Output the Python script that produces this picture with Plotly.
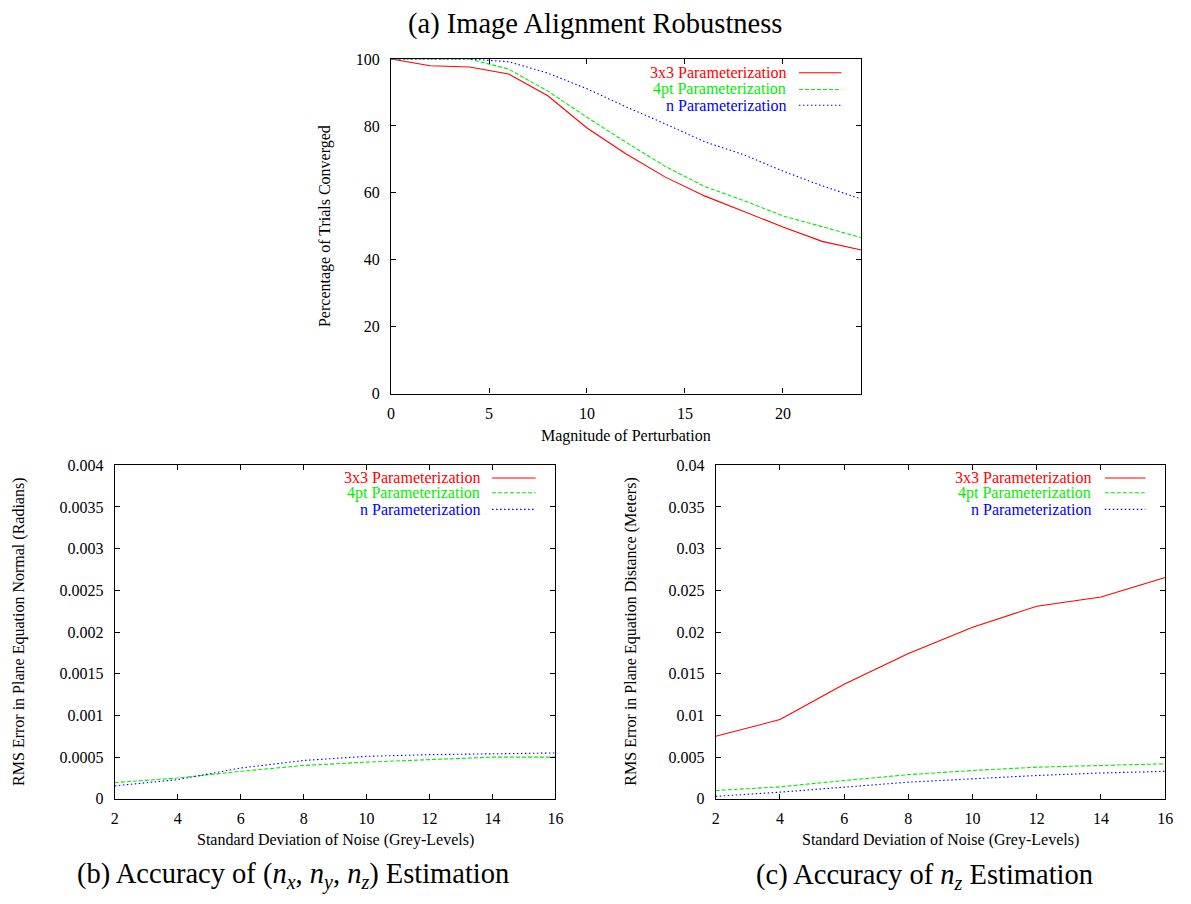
import plotly.graph_objects as go

# ---- data -------------------------------------------------------------
series_names = ["3x3 Parameterization", "4pt Parameterization", "n Parameterization"]
series_colors = ["#ff0000", "#00ee00", "#0000ff"]
series_dash = ["solid", "4px,2px", "1.5px,2.5px"]

# (a) robustness vs. perturbation magnitude
perturbation = [0, 2, 4, 6, 8, 10, 12, 14, 16, 18, 20, 22, 24]
conv_3x3 = [100, 98.0, 97.6, 95.5, 89.0, 79.4, 71.6, 64.7, 59.1, 54.4, 49.8, 45.5, 42.9]
conv_4pt = [100, 100, 100, 97.0, 90.4, 82.6, 75.1, 67.9, 61.9, 57.7, 53.1, 49.9, 46.6]
conv_n = [100, 100, 100, 99.2, 95.8, 91.1, 85.7, 80.6, 75.3, 71.4, 66.5, 62.1, 58.2]

# (b), (c) accuracy vs. noise level
# (the 3x3 normal error lies above the plotted range of panel (b))
noise = [2, 4, 6, 8, 10, 12, 14, 16]
normal_4pt = [0.000195, 0.00025, 0.00033, 0.00040, 0.00044, 0.00047, 0.00050, 0.00050]
normal_n = [0.000156, 0.00023, 0.00037, 0.00046, 0.00051, 0.00053, 0.00054, 0.00055]

dist_3x3 = [0.0075, 0.0095, 0.01374, 0.01744, 0.02057, 0.0231, 0.0242, 0.02654]
dist_4pt = [0.0010, 0.00144, 0.0022, 0.0029, 0.0034, 0.0038, 0.0040, 0.0042]
dist_n = [0.0003, 0.0008, 0.0014, 0.0020, 0.0024, 0.0028, 0.0031, 0.0033]

# tick labels
ticks_a_x = [0, 5, 10, 15, 20]
ticks_a_y = [0, 20, 40, 60, 80, 100]
ticks_noise = [2, 4, 6, 8, 10, 12, 14, 16]
ticks_b_y = [0, 0.0005, 0.001, 0.0015, 0.002, 0.0025, 0.003, 0.0035, 0.004]
ticktext_b_y = ["0", "0.0005", "0.001", "0.0015", "0.002", "0.0025", "0.003", "0.0035", "0.004"]
ticks_c_y = [0, 0.005, 0.01, 0.015, 0.02, 0.025, 0.03, 0.035, 0.04]
ticktext_c_y = ["0", "0.005", "0.01", "0.015", "0.02", "0.025", "0.03", "0.035", "0.04"]

# ---- figure -----------------------------------------------------------
W, H = 1191, 904
SERIF = "Liberation Serif, Times New Roman, serif"

fig = go.Figure()

panels = [
    ("x", "y", perturbation, [conv_3x3, conv_4pt, conv_n]),
    ("x2", "y2", noise, [None, normal_4pt, normal_n]),
    ("x3", "y3", noise, [dist_3x3, dist_4pt, dist_n]),
]

for xa, ya, xs, ys_list in panels:
    for name, color, dash, ys in zip(series_names, series_colors, series_dash, ys_list):
        if ys is None:
            continue
        fig.add_trace(go.Scatter(
            x=xs, y=ys, mode="lines", name=name, showlegend=False,
            xaxis=xa, yaxis=ya,
            line=dict(color=color, width=1.1, dash=dash),
            hoverinfo="skip",
        ))


def px_x(p):
    return p / W


def px_y(p):
    return 1 - p / H


# plot-area rectangles in pixels: (left, right, top, bottom)
box_a = (391, 866, 52, 393)
box_b = (112, 557, 466, 806)
box_c = (719, 1173, 466, 806)


def dom(box):
    l, r, t, b = box
    return [px_x(l), px_x(r)], [px_y(b), px_y(t)]


axis_common = dict(
    showline=True, linecolor="black", linewidth=1.3, mirror="ticks",
    ticks="inside", ticklen=5, tickwidth=1, tickcolor="black",
    showgrid=False, zeroline=False,
    tickfont=dict(family=SERIF, size=16, color="black"),
)
xtick = dict(ticklabelstandoff=5)
ytick = dict(ticklabelstandoff=7)

xd, yd = dom(box_a)
fig.update_layout(
    xaxis=dict(domain=xd, anchor="y", range=[0, 24], tickvals=ticks_a_x, **xtick, **axis_common),
    yaxis=dict(domain=yd, anchor="x", range=[0, 100], tickvals=ticks_a_y, **ytick, **axis_common),
)
xd, yd = dom(box_b)
fig.update_layout(
    xaxis2=dict(domain=xd, anchor="y2", range=[2, 16], tickvals=ticks_noise, **xtick, **axis_common),
    yaxis2=dict(domain=yd, anchor="x2", range=[0, 0.004], tickvals=ticks_b_y,
                ticktext=ticktext_b_y, **ytick, **axis_common),
)
xd, yd = dom(box_c)
fig.update_layout(
    xaxis3=dict(domain=xd, anchor="y3", range=[2, 16], tickvals=ticks_noise, **xtick, **axis_common),
    yaxis3=dict(domain=yd, anchor="x3", range=[0, 0.04], tickvals=ticks_c_y,
                ticktext=ticktext_c_y, **ytick, **axis_common),
)

annotations = []
shapes = []

# in-plot keys: right-aligned label followed by a line sample
key_layout = [
    ("x", "y", 0.8442, (0.8674, 0.9579), [0.959, 0.909, 0.862]),
    ("x2", "y2", 0.8337, (0.8562, 0.9551), [0.9618, 0.9176, 0.8676]),
    ("x3", "y3", 0.8392, (0.8656, 0.9559), [0.9618, 0.9176, 0.8676]),
]
for xa, ya, tx, (s0, s1), rows in key_layout:
    for name, color, dash, ry in zip(series_names, series_colors, series_dash, rows):
        annotations.append(dict(
            xref=f"{xa} domain", yref=f"{ya} domain", x=tx, y=ry,
            text=name, showarrow=False, xanchor="right", yanchor="middle",
            font=dict(family=SERIF, size=16, color=color),
        ))
        shapes.append(dict(
            type="line", xref=f"{xa} domain", yref=f"{ya} domain",
            x0=s0, x1=s1, y0=ry, y1=ry,
            line=dict(color=color, width=1.1, dash=dash),
        ))

# axis titles
axis_titles = [
    ("Magnitude of Perturbation", 628.5, 436, 0),
    ("Percentage of Trials Converged", 325, 222.5, -90),
    ("Standard Deviation of Noise (Grey-Levels)", 334.5, 848, 0),
    ("RMS Error in Plane Equation Normal (Radians)", 15, 636, -90),
    ("Standard Deviation of Noise (Grey-Levels)", 946, 848, 0),
    ("RMS Error in Plane Equation Distance (Meters)", 633, 636, -90),
]
for text, cx, cy, ang in axis_titles:
    annotations.append(dict(
        xref="paper", yref="paper", x=px_x(cx), y=px_y(cy), text=text,
        showarrow=False, xanchor="center", yanchor="middle", textangle=ang,
        font=dict(family=SERIF, size=16, color="black"),
    ))

# panel captions
captions = [
    ("(a) Image Alignment Robustness", 597, 16),
    ("(b) Accuracy of (<i>n</i><sub><i>x</i></sub>, <i>n</i><sub><i>y</i></sub>, "
     "<i>n</i><sub><i>z</i></sub>) Estimation", 292, 885),
    ("(c) Accuracy of <i>n</i><sub><i>z</i></sub> Estimation", 930, 885),
]
for text, cx, cy in captions:
    annotations.append(dict(
        xref="paper", yref="paper", x=px_x(cx), y=px_y(cy), text=text,
        showarrow=False, xanchor="center", yanchor="middle",
        font=dict(family=SERIF, size=28.5, color="black"),
    ))

fig.update_layout(
    width=W, height=H,
    margin=dict(l=0, r=0, t=0, b=0),
    paper_bgcolor="white", plot_bgcolor="white",
    showlegend=False,
    annotations=annotations, shapes=shapes,
)

fig.write_html("out.html", config={"displayModeBar": False})
